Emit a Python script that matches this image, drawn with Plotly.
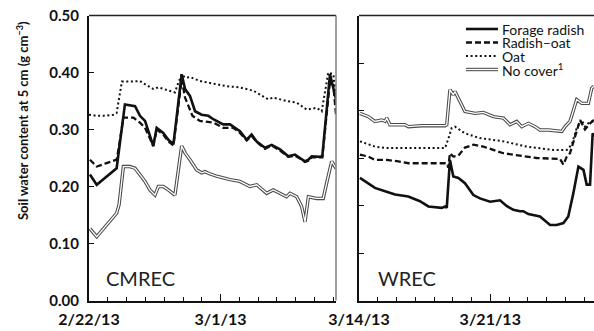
import plotly.graph_objects as go
import pandas as pd

# ---------------- data ----------------
cm_start = "2013-02-22"
wr_start = "2013-03-14"

# CMREC panel (days since 2/22/13)
cm_radish_day = [0.05, 0.41, 1.47, 1.6, 1.83, 1.91, 2.45, 2.71, 2.98, 3.24, 3.42, 3.6, 3.95, 4.22, 4.49,
                 4.93, 5.11, 5.37, 5.64, 5.99, 6.35, 6.61, 6.79, 7.14, 7.5, 8.03, 8.39, 8.65, 8.92, 9.36,
                 9.72, 10.16, 10.6, 10.96, 11.22, 11.49, 11.67, 11.85, 12.29, 12.41, 12.82, 13.09, 13.14]
cm_radish_val = [0.221, 0.203, 0.232, 0.265, 0.329, 0.344, 0.341, 0.324, 0.315, 0.288, 0.271, 0.303, 0.294, 0.282, 0.274,
                 0.397, 0.371, 0.359, 0.332, 0.326, 0.324, 0.318, 0.315, 0.309, 0.309, 0.297, 0.282, 0.291, 0.279, 0.268,
                 0.273, 0.265, 0.253, 0.256, 0.250, 0.244, 0.247, 0.253, 0.252, 0.253, 0.397, 0.359, 0.353]

cm_mix_day = [0.05, 0.41, 0.85, 1.47, 1.6, 1.83, 2.36, 2.71, 2.98, 3.24, 3.42, 3.6, 3.95, 4.22, 4.49,
              4.93, 5.11, 5.5, 5.9, 6.61, 6.79, 7.14, 7.68, 8.03, 8.39, 8.65, 8.92, 9.36, 9.72, 10.16,
              10.6, 10.96, 11.22, 11.49, 11.67, 11.85, 12.41, 12.82, 13.0, 13.14]
cm_mix_val = [0.247, 0.235, 0.240, 0.247, 0.271, 0.321, 0.321, 0.312, 0.303, 0.285, 0.271, 0.300, 0.291, 0.279, 0.272,
              0.388, 0.356, 0.324, 0.315, 0.312, 0.309, 0.303, 0.303, 0.294, 0.281, 0.289, 0.278, 0.266, 0.272, 0.263,
              0.252, 0.254, 0.249, 0.243, 0.245, 0.251, 0.251, 0.385, 0.376, 0.326]

cm_oat_day = [0.0, 0.41, 0.85, 1.3, 1.47, 1.75, 2.18, 2.71, 3.0, 3.42, 3.69, 4.22, 4.57, 4.75, 4.93,
              5.11, 5.37, 5.9, 6.44, 7.32, 8.0, 8.74, 9.54, 9.8, 10.51, 11.05, 11.58, 12.11, 12.38, 12.73,
              13.0, 13.14]
cm_oat_val = [0.326, 0.324, 0.324, 0.326, 0.329, 0.384, 0.384, 0.385, 0.379, 0.371, 0.374, 0.368, 0.365, 0.382, 0.397,
              0.391, 0.392, 0.385, 0.382, 0.376, 0.374, 0.368, 0.353, 0.356, 0.350, 0.347, 0.335, 0.338, 0.332, 0.400,
              0.397, 0.353]

cm_none_day = [0.05, 0.41, 1.47, 1.6, 1.83, 2.18, 2.45, 2.71, 2.98, 3.24, 3.51, 3.69, 3.95, 4.22, 4.49, 4.57,
               4.93, 5.11, 5.37, 5.73, 5.99, 6.17, 6.44, 6.79, 7.5, 8.03, 8.56, 8.92, 9.45, 9.8, 10.51,
               10.69, 11.05, 11.31, 11.49, 11.67, 12.11, 12.46, 12.64, 12.91, 13.14]
cm_none_val = [0.126, 0.112, 0.153, 0.168, 0.235, 0.235, 0.232, 0.221, 0.209, 0.194, 0.185, 0.200, 0.200, 0.194, 0.188, 0.185,
               0.271, 0.259, 0.247, 0.229, 0.224, 0.226, 0.222, 0.218, 0.212, 0.209, 0.200, 0.203, 0.188, 0.194, 0.182,
               0.188, 0.182, 0.165, 0.138, 0.182, 0.179, 0.179, 0.206, 0.244, 0.232]

# WREC panel (days since 3/14/13)
wr_radish_day = [0.05, 0.5, 0.85, 1.39, 1.92, 2.63, 3.25, 3.7, 4.41, 4.59, 4.68, 4.85, 5.03, 5.3, 5.65,
                 6.1, 6.45, 6.99, 7.52, 7.87, 8.23, 8.59, 8.76, 9.03, 9.65, 10.19, 10.54, 10.9, 11.16, 11.43,
                 11.7, 11.97, 12.14, 12.32, 12.46, 12.53]
wr_radish_val = [0.258, 0.247, 0.237, 0.230, 0.223, 0.219, 0.209, 0.198, 0.195, 0.198, 0.195, 0.296, 0.261, 0.258, 0.247,
                 0.222, 0.215, 0.208, 0.211, 0.199, 0.191, 0.188, 0.188, 0.182, 0.177, 0.159, 0.159, 0.163, 0.177, 0.226,
                 0.282, 0.275, 0.244, 0.244, 0.352, 0.345]

wr_mix_day = [0.05, 0.5, 0.85, 1.48, 2.1, 2.63, 4.68, 4.76, 4.85, 5.03, 5.3, 5.65, 6.1, 6.63, 7.7,
              8.76, 9.48, 10.72, 10.9, 11.08, 11.25, 11.52, 11.79, 12.05, 12.32, 12.53]
wr_mix_val = [0.307, 0.303, 0.296, 0.296, 0.293, 0.289, 0.289, 0.280, 0.310, 0.303, 0.305, 0.322, 0.328, 0.324, 0.310,
              0.305, 0.300, 0.298, 0.286, 0.303, 0.310, 0.345, 0.380, 0.360, 0.373, 0.380]

wr_oat_day = [0.05, 0.85, 1.48, 4.59, 4.76, 4.94, 5.12, 5.65, 6.19, 6.45, 7.7, 8.94, 10.36, 11.08, 11.34,
              11.61, 11.88, 12.05, 12.32, 12.53]
wr_oat_val = [0.335, 0.324, 0.321, 0.321, 0.340, 0.363, 0.366, 0.352, 0.345, 0.342, 0.335, 0.324, 0.317, 0.317, 0.328,
              0.363, 0.380, 0.366, 0.377, 0.377]

wr_none_day = [0.05, 0.5, 0.85, 1.21, 1.39, 1.48, 1.65, 2.45, 2.63, 3.34, 4.59, 4.68, 4.85, 5.03, 5.12,
               5.39, 5.65, 6.19, 6.63, 7.17, 7.7, 8.05, 8.41, 8.68, 9.03, 9.39, 9.65, 10.1, 10.54, 10.81,
               10.99, 11.25, 11.61, 11.88, 12.23, 12.41, 12.53]
wr_none_val = [0.394, 0.387, 0.377, 0.380, 0.377, 0.384, 0.370, 0.370, 0.366, 0.368, 0.368, 0.370, 0.444, 0.433, 0.440,
               0.419, 0.398, 0.394, 0.396, 0.387, 0.384, 0.370, 0.377, 0.366, 0.373, 0.366, 0.359, 0.359, 0.358, 0.356,
               0.366, 0.377, 0.423, 0.415, 0.415, 0.447, 0.451]

series_names = ["Forage radish", "Radish\u2013oat", "Oat", "No cover<sup>1</sup>"]
panel_names = ["CMREC", "WREC"]
y_ticks = [0.0, 0.1, 0.2, 0.3, 0.4, 0.5]
y_ticktext = ["0.00", "0.10", "0.20", "0.30", "0.40", "0.50"]
x_ticks_cm = ["2013-02-22", "2013-03-01"]
x_ticktext_cm = ["2/22/13", "3/1/13"]
x_ticks_wr = ["2013-03-14", "2013-03-21"]
x_ticktext_wr = ["3/14/13", "3/21/13"]


def to_dates(start, days):
    s = pd.Timestamp(start)
    return [(s + pd.to_timedelta(d, unit="D")).strftime("%Y-%m-%d %H:%M:%S") for d in days]


W, H = 594, 331
def px(x):
    return x / W
def py(y):
    return 1 - y / H

fig = go.Figure()

NC_OUT = dict(color="#4a4a4a", width=3.4)
NC_IN = dict(color="white", width=1.3)
styles = {
    "radish": dict(color="#111111", width=2.6, dash="solid"),
    "mix": dict(color="#111111", width=2.3, dash="6px,3px"),
    "oat": dict(color="#111111", width=2.0, dash="2px,2.6px"),
}

panels = [
    ("x", "y", cm_start, [(cm_none_day, cm_none_val), (cm_oat_day, cm_oat_val), (cm_mix_day, cm_mix_val), (cm_radish_day, cm_radish_val)]),
    ("x2", "y2", wr_start, [(wr_none_day, wr_none_val), (wr_oat_day, wr_oat_val), (wr_mix_day, wr_mix_val), (wr_radish_day, wr_radish_val)]),
]

for xa, ya, start, data in panels:
    (nd, nv), (od, ov), (md, mv), (rd, rv) = data
    fig.add_trace(go.Scatter(x=to_dates(start, nd), y=nv, mode="lines", xaxis=xa, yaxis=ya,
                             line=NC_OUT, showlegend=False, hoverinfo="skip"))
    fig.add_trace(go.Scatter(x=to_dates(start, nd), y=nv, mode="lines", xaxis=xa, yaxis=ya,
                             line=NC_IN, showlegend=False, hoverinfo="skip"))
    fig.add_trace(go.Scatter(x=to_dates(start, od), y=ov, mode="lines", xaxis=xa, yaxis=ya,
                             line=styles["oat"], showlegend=False))
    fig.add_trace(go.Scatter(x=to_dates(start, md), y=mv, mode="lines", xaxis=xa, yaxis=ya,
                             line=styles["mix"], showlegend=False))
    fig.add_trace(go.Scatter(x=to_dates(start, rd), y=rv, mode="lines", xaxis=xa, yaxis=ya,
                             line=styles["radish"], showlegend=False))

tickfont = dict(family="Lato", size=16, color="#111111", weight="bold")
ytickfont = dict(family="Lato", size=15, color="#111111", weight="bold")
day_ms = 86400000

xdom1 = [px(89), px(336)]
xdom2 = [px(359), 1.0]
ydom = [py(300.5), py(15.5)]

fig.update_layout(
    width=W, height=H,
    margin=dict(l=0, r=0, t=0, b=0),
    paper_bgcolor="white", plot_bgcolor="white",
    showlegend=False,
    xaxis=dict(domain=xdom1, type="date", range=["2013-02-22 00:00", "2013-03-07 03:20"],
               tickmode="array", tickvals=x_ticks_cm, ticktext=x_ticktext_cm,
               ticks="inside", ticklen=7, tickwidth=1, tickcolor="#111111",
               minor=dict(ticks="inside", ticklen=4, tickwidth=1, tickcolor="#111111",
                          tickmode="linear", tick0="2013-02-22", dtick=day_ms, showgrid=False),
               showline=True, linecolor="#111111", linewidth=2, showgrid=False, zeroline=False,
               tickfont=tickfont, automargin=False, anchor="y", ticklabelstandoff=3),
    xaxis2=dict(domain=xdom2, type="date", range=["2013-03-14 00:00", "2013-03-26 12:45"],
                tickmode="array", tickvals=x_ticks_wr, ticktext=x_ticktext_wr,
                ticks="inside", ticklen=7, tickwidth=1, tickcolor="#111111",
                minor=dict(ticks="inside", ticklen=4, tickwidth=1, tickcolor="#111111",
                           tickmode="linear", tick0="2013-03-14", dtick=day_ms, showgrid=False),
                showline=True, linecolor="#111111", linewidth=2, showgrid=False, zeroline=False,
                tickfont=tickfont, automargin=False, anchor="y2", ticklabelstandoff=3),
    yaxis=dict(domain=ydom, range=[0, 0.5], tickmode="array", tickvals=y_ticks, ticktext=y_ticktext,
               ticks="inside", ticklen=5, tickwidth=1, tickcolor="#111111",
               showline=True, linecolor="#111111", linewidth=2, showgrid=False, zeroline=False,
               tickfont=ytickfont, automargin=False, anchor="x", ticklabelstandoff=5),
    yaxis2=dict(domain=ydom, range=[0, 0.6], tickmode="linear", tick0=0, dtick=0.1,
                ticks="inside", ticklen=5, tickwidth=1, tickcolor="#111111", showticklabels=False,
                showline=True, linecolor="#111111", linewidth=2, showgrid=False, zeroline=False,
                automargin=False, anchor="x2"),
)

# frame: top lines and right edge of left panel
fig.add_shape(type="line", xref="x domain", yref="y domain", x0=0, x1=1, y0=1, y1=1,
              line=dict(color="#222222", width=1.5))
fig.add_shape(type="line", xref="x domain", yref="y domain", x0=1, x1=1, y0=0, y1=1,
              line=dict(color="#808080", width=1.5))
fig.add_shape(type="line", xref="x2 domain", yref="y2 domain", x0=0, x1=1, y0=1, y1=1,
              line=dict(color="#222222", width=1.5))

# panel labels
fig.add_annotation(text=panel_names[0], xref="paper", yref="paper", x=px(104), y=py(278),
                   xanchor="left", yanchor="middle", showarrow=False,
                   font=dict(family="Lato", size=20, color="#222222"))
fig.add_annotation(text=panel_names[1], xref="paper", yref="paper", x=px(376), y=py(278),
                   xanchor="left", yanchor="middle", showarrow=False,
                   font=dict(family="Lato", size=20, color="#222222"))

# y-axis title
fig.add_annotation(text="<b>Soil water content at 5 cm (g cm<sup>\u22123</sup>)</b>",
                   xref="paper", yref="paper", x=px(23), y=py(121), textangle=-90,
                   xanchor="center", yanchor="middle", showarrow=False,
                   font=dict(family="Lato", size=13, color="#111111"))

# legend (custom)
leg_y = [29, 42.5, 56, 69.5]
lx0, lx1, tx = 466, 498, 501
leg_styles = [styles["radish"], styles["mix"], styles["oat"]]
for i in range(3):
    fig.add_shape(type="line", xref="paper", yref="paper", x0=px(lx0), x1=px(lx1),
                  y0=py(leg_y[i]), y1=py(leg_y[i]), line=leg_styles[i])
fig.add_shape(type="line", xref="paper", yref="paper", x0=px(lx0), x1=px(lx1),
              y0=py(leg_y[3]), y1=py(leg_y[3]), line=NC_OUT)
fig.add_shape(type="line", xref="paper", yref="paper", x0=px(lx0), x1=px(lx1),
              y0=py(leg_y[3]), y1=py(leg_y[3]), line=NC_IN)
for i, name in enumerate(series_names):
    fig.add_annotation(text=name, xref="paper", yref="paper", x=px(tx), y=py(leg_y[i]),
                       xanchor="left", yanchor="middle", align="left", showarrow=False,
                       borderpad=0,
                       font=dict(family="Lato", size=14, color="#111111"))

fig.write_html("out.html", config={"displayModeBar": False},
               post_script="document.body.style.margin='0px';document.body.style.padding='0px';")
